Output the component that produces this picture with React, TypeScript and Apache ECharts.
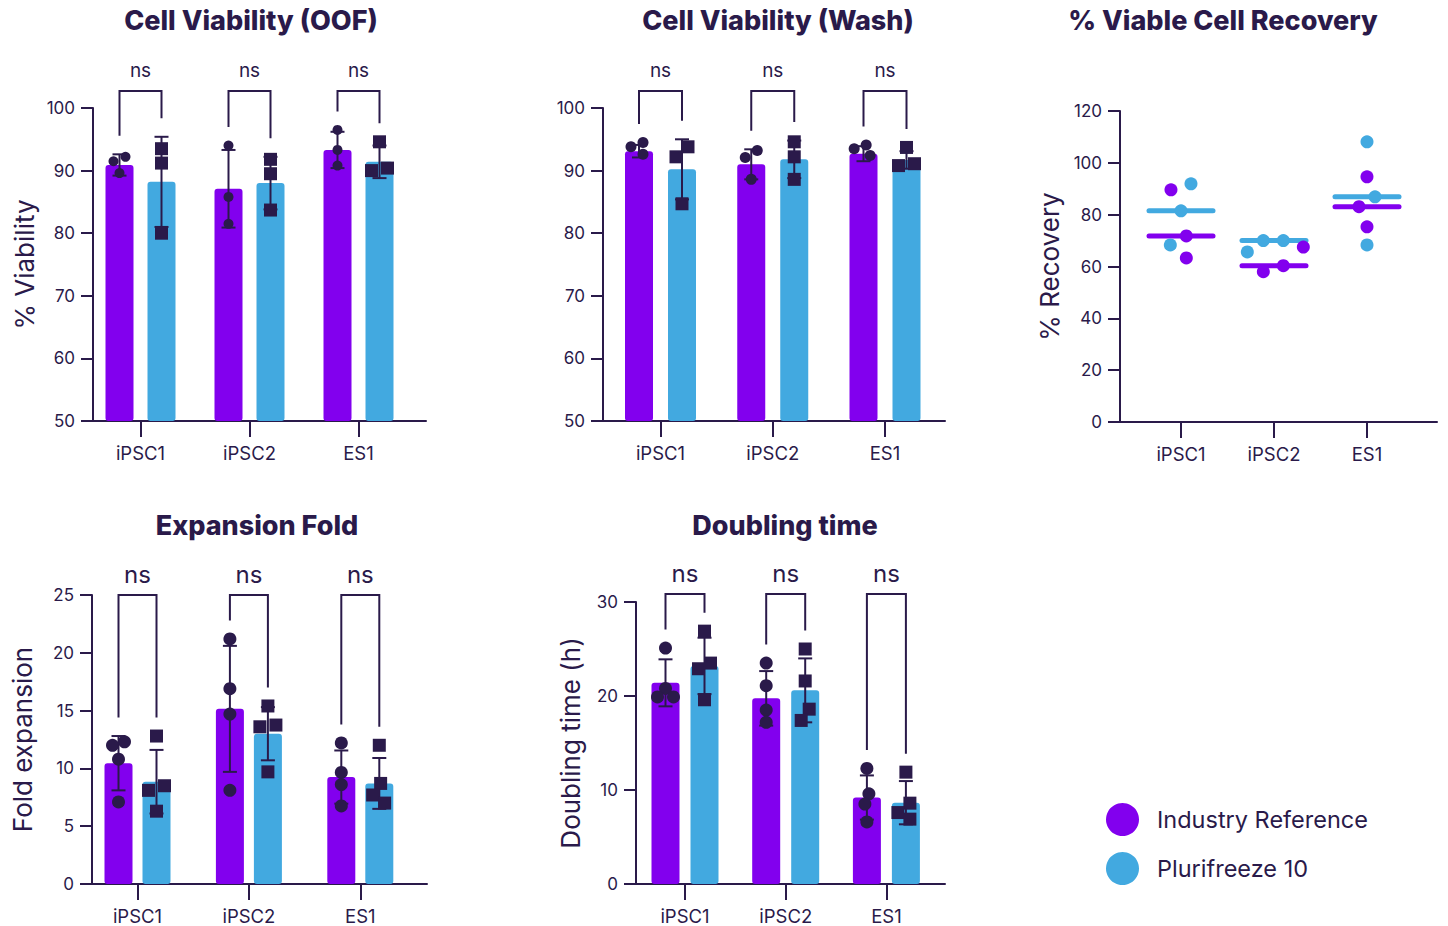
import React, { useEffect, useRef } from 'react';
import * as echarts from 'echarts';

// ---------------- DATA ----------------
const CATEGORIES = ['iPSC1', 'iPSC2', 'ES1'];
const GROUPS = ['Industry Reference', 'Plurifreeze 10'];
const SIG_LABELS = ['ns', 'ns', 'ns'];

// Cell Viability (OOF) – % viability
const oofRefMean = [90.9, 87.1, 93.3];
const oofRefSd = [1.7, 6.2, 2.9];
const oofRefPts = [[92.2, 91.5, 89.6], [94.0, 85.8, 81.5], [96.5, 93.3, 90.8]];
const oofPfMean = [88.2, 88.0, 91.4];
const oofPfSd = [7.2, 4.2, 2.6];
const oofPfPts = [[93.5, 91.2, 80.0], [91.8, 89.5, 83.7], [94.6, 90.4, 90.0]];

// Cell Viability (Wash) – % viability
const washRefMean = [93.1, 91.0, 92.7];
const washRefSd = [1.0, 2.4, 1.2];
const washRefPts = [[92.6, 94.5, 93.8], [93.2, 92.1, 88.6], [92.4, 94.1, 93.5]];
const washPfMean = [90.2, 91.8, 91.7];
const washPfSd = [4.8, 3.0, 1.4];
const washPfPts = [[93.8, 92.2, 84.7], [94.6, 92.2, 88.6], [93.7, 90.8, 91.1]];

// % Viable Cell Recovery
const recRefPts = [[89.6, 71.8, 63.3], [58.0, 60.3, 67.5], [94.6, 83.1, 75.3]];
const recPfPts = [[91.9, 81.5, 68.3], [70.0, 70.0, 65.6], [108.1, 86.9, 68.3]];

// Expansion Fold – fold expansion
const expRefMean = [10.45, 15.15, 9.25];
const expRefSd = [2.35, 5.45, 2.3];
const expRefPts = [[12.0, 12.3, 10.8, 7.1], [21.2, 16.9, 14.7, 8.1], [12.2, 9.65, 8.6, 6.75]];
const expPfMean = [8.85, 13.0, 8.7];
const expPfSd = [2.75, 2.3, 2.2];
const expPfPts = [[12.8, 8.5, 8.1, 6.3], [15.4, 13.75, 13.6, 9.7], [12.0, 8.7, 7.7, 7.0]];

// Doubling time – hours
const dblRefMean = [21.4, 19.75, 9.2];
const dblRefSd = [2.5, 2.9, 2.35];
const dblRefPts = [[25.1, 20.8, 19.9, 19.9], [23.5, 21.1, 18.5, 17.2], [12.3, 9.6, 8.5, 6.6]];
const dblPfMean = [23.2, 20.6, 8.65];
const dblPfSd = [3.0, 3.4, 2.3];
const dblPfPts = [[26.9, 23.5, 22.9, 19.6], [25.0, 21.6, 18.6, 17.4], [11.9, 8.6, 7.6, 6.9]];

// ---------------- STYLE ----------------
const PURPLE = '#8200EE';
const BLUE = '#42A9E0';
const INK = '#2A1A4A';
const FONT = 'Inter, "Noto Sans", sans-serif';
const BAR_W = 28;
const TICK_FONT = 17;
const CAT_FONT = 18.5;
const NAME_FONT = 26;
const TITLE_FONT = 27;

// beeswarm-like spread of replicate points (pixel offsets from their column centre)
function swarm(ys: number[], minDist: number, step: number): number[] {
  const order = ys.map((_, k) => k).sort((a, b) => ys[a] - ys[b]);
  const offs = ys.map(() => 0);
  const clusters: number[][] = [];
  let cur: number[] = [];
  order.forEach((k, j) => {
    if (j > 0 && ys[k] - ys[order[j - 1]] >= minDist) {
      clusters.push(cur);
      cur = [];
    }
    cur.push(k);
  });
  if (cur.length) clusters.push(cur);
  for (const cl of clusters) {
    const placed: number[] = [];
    for (const k of cl) {
      let n = 0;
      for (;;) {
        const cand = n === 0 ? 0 : (n % 2 === 1 ? -1 : 1) * Math.ceil(n / 2) * step;
        const ok = placed.every((p) => Math.hypot(offs[p] - cand, ys[p] - ys[k]) >= minDist);
        if (ok) {
          offs[k] = cand;
          break;
        }
        n++;
      }
      placed.push(k);
    }
    const mean = cl.reduce((s, k) => s + offs[k], 0) / cl.length;
    cl.forEach((k) => (offs[k] -= mean));
  }
  return offs;
}

type BarPanel = {
  title: string;
  yName: string;
  yMin: number;
  yMax: number;
  yInterval: number;
  refMean: number[];
  refSd: number[];
  refPts: number[][];
  pfMean: number[];
  pfSd: number[];
  pfPts: number[][];
  bracketTop: number;
  L: {
    axisLeft: number; axisRight: number; top: number; bottom: number;
    firstCenter: number; spacing: number; gap: number;
    titleX: number; titleY: number; nsSize: number; nameGap: number;
    dot: number; sq: number;
  };
};

const barPanels: BarPanel[] = [
  {
    title: 'Cell Viability (OOF)', yName: '% Viability', yMin: 50, yMax: 100, yInterval: 10,
    refMean: oofRefMean, refSd: oofRefSd, refPts: oofRefPts,
    pfMean: oofPfMean, pfSd: oofPfSd, pfPts: oofPfPts, bracketTop: 102.7,
    L: { axisLeft: 93, axisRight: 426, top: 108, bottom: 421, firstCenter: 140.5, spacing: 109, gap: 14,
      titleX: 251, titleY: 20, nsSize: 19, nameGap: 56, dot: 5, sq: 13 },
  },
  {
    title: 'Cell Viability (Wash)', yName: '', yMin: 50, yMax: 100, yInterval: 10,
    refMean: washRefMean, refSd: washRefSd, refPts: washRefPts,
    pfMean: washPfMean, pfSd: washPfSd, pfPts: washPfPts, bracketTop: 102.7,
    L: { axisLeft: 603, axisRight: 945, top: 108, bottom: 421, firstCenter: 660.5, spacing: 112.25, gap: 15,
      titleX: 778, titleY: 20, nsSize: 19, nameGap: 56, dot: 5.5, sq: 13 },
  },
  {
    title: 'Expansion Fold', yName: 'Fold expansion', yMin: 0, yMax: 25, yInterval: 5,
    refMean: expRefMean, refSd: expRefSd, refPts: expRefPts,
    pfMean: expPfMean, pfSd: expPfSd, pfPts: expPfPts, bracketTop: 25,
    L: { axisLeft: 92, axisRight: 427, top: 595, bottom: 884, firstCenter: 137.5, spacing: 111.4, gap: 10,
      titleX: 257, titleY: 525, nsSize: 24, nameGap: 57, dot: 6.5, sq: 13 },
  },
  {
    title: 'Doubling time', yName: 'Doubling time (h)', yMin: 0, yMax: 30, yInterval: 10,
    refMean: dblRefMean, refSd: dblRefSd, refPts: dblRefPts,
    pfMean: dblPfMean, pfSd: dblPfSd, pfPts: dblPfPts, bracketTop: 30.85,
    L: { axisLeft: 636, axisRight: 945, top: 602, bottom: 884, firstCenter: 685, spacing: 100.7, gap: 11,
      titleX: 785, titleY: 525, nsSize: 24, nameGap: 53, dot: 6.5, sq: 13 },
  },
];

const recLayout = {
  axisLeft: 1120, axisRight: 1437, top: 111, bottom: 422, firstCenter: 1181, spacing: 93,
  titleX: 1223, titleY: 20, nameGap: 58, dot: 6.5, lineHalf: 32,
};

const catIdx = CATEGORIES.map((_, i) => i);

function xAxisFor(gi: number, L: { axisLeft: number; axisRight: number; firstCenter: number; spacing: number }) {
  return {
    gridIndex: gi,
    type: 'value',
    min: (L.axisLeft - L.firstCenter) / L.spacing,
    max: (L.axisRight - L.firstCenter) / L.spacing,
    splitLine: { show: false },
    axisLine: { show: true, onZero: false, lineStyle: { color: INK, width: 2 } },
    axisTick: { show: true, customValues: catIdx, length: 16, lineStyle: { color: INK, width: 2 } },
    axisLabel: {
      customValues: catIdx,
      formatter: (v: number) => CATEGORIES[Math.round(v)] ?? '',
      color: INK, fontSize: CAT_FONT, fontFamily: FONT, margin: 22,
    },
  };
}

function yAxisFor(gi: number, min: number, max: number, interval: number, name: string, nameGap: number) {
  return {
    gridIndex: gi,
    type: 'value',
    min, max, interval,
    splitLine: { show: false },
    axisLine: { show: true, onZero: false, lineStyle: { color: INK, width: 2 } },
    axisTick: { show: true, length: 12, lineStyle: { color: INK, width: 2 } },
    axisLabel: { color: INK, fontSize: TICK_FONT, fontFamily: FONT, margin: 18 },
    name,
    nameLocation: 'middle',
    nameRotate: 90,
    nameGap,
    nameTextStyle: { color: INK, fontSize: NAME_FONT, fontFamily: FONT },
  };
}

function buildOption() {
  const grid: any[] = [];
  const xAxis: any[] = [];
  const yAxis: any[] = [];
  const series: any[] = [];
  const graphic: any[] = [];

  const addTitle = (text: string, x: number, y: number) => {
    graphic.push({
      type: 'text', x, y, silent: true,
      style: {
        text, fill: INK, fontSize: TITLE_FONT, fontWeight: 800, fontFamily: FONT,
        align: 'center', verticalAlign: 'middle', textAlign: 'center', textVerticalAlign: 'middle',
      },
    });
  };

  barPanels.forEach((p, gi) => {
    const L = p.L;
    const off = (BAR_W + L.gap) / 2;
    grid.push({ left: L.axisLeft, top: L.top, width: L.axisRight - L.axisLeft, height: L.bottom - L.top });
    xAxis.push(xAxisFor(gi, L));
    yAxis.push(yAxisFor(gi, p.yMin, p.yMax, p.yInterval, p.yName, L.nameGap));
    addTitle(p.title, L.titleX, L.titleY);

    const means = [p.refMean, p.pfMean];
    const sds = [p.refSd, p.pfSd];
    const pts = [p.refPts, p.pfPts];
    const colors = [PURPLE, BLUE];

    [0, 1].forEach((g) => {
      series.push({
        type: 'bar', name: GROUPS[g], xAxisIndex: gi, yAxisIndex: gi,
        data: means[g].map((m, i) => [i, m]),
        barWidth: BAR_W, barGap: `${(L.gap / BAR_W) * 100}%`,
        itemStyle: { color: colors[g], borderRadius: 3 },
        z: 2,
      });
    });

    // error bars (mean ± SD)
    const errRows: number[][] = [];
    [0, 1].forEach((g) => means[g].forEach((m, i) => errRows.push([i, m, sds[g][i], g])));
    series.push({
      type: 'custom', xAxisIndex: gi, yAxisIndex: gi, z: 4,
      data: errRows,
      renderItem: (params: any, api: any) => {
        const i = api.value(0), m = api.value(1), s = api.value(2), g = api.value(3);
        const hi = api.coord([i, m + s]);
        const lo = api.coord([i, m - s]);
        const x = hi[0] + (g === 0 ? -off : off);
        const st = { stroke: INK, lineWidth: 2 };
        return {
          type: 'group',
          children: [
            { type: 'line', shape: { x1: x, y1: hi[1], x2: x, y2: lo[1] }, style: st },
            { type: 'line', shape: { x1: x - 7, y1: hi[1], x2: x + 7, y2: hi[1] }, style: st },
            { type: 'line', shape: { x1: x - 7, y1: lo[1], x2: x + 7, y2: lo[1] }, style: st },
          ],
        };
      },
    });

    // replicate points
    const ptRows: number[][] = [];
    [0, 1].forEach((g) => means[g].forEach((m, i) => ptRows.push([i, m, g])));
    series.push({
      type: 'custom', xAxisIndex: gi, yAxisIndex: gi, z: 5,
      data: ptRows,
      renderItem: (params: any, api: any) => {
        const i = api.value(0), g = api.value(2);
        const vals = pts[g][i];
        const cs = vals.map((v) => api.coord([i, v]));
        const ys = cs.map((c) => c[1]);
        const offs = swarm(ys, g === 0 ? 11 : 13, 4);
        const cx = cs[0][0] + (g === 0 ? -off : off);
        const children = cs.map((c, k) => {
          const x = cx + offs[k];
          if (g === 0) {
            return { type: 'circle', shape: { cx: x, cy: c[1], r: L.dot }, style: { fill: INK } };
          }
          return { type: 'rect', shape: { x: x - L.sq / 2, y: c[1] - L.sq / 2, width: L.sq, height: L.sq }, style: { fill: INK } };
        });
        return { type: 'group', children };
      },
    });

    // significance brackets
    series.push({
      type: 'custom', xAxisIndex: gi, yAxisIndex: gi, z: 4,
      data: catIdx.map((i) => [i, p.bracketTop]),
      renderItem: (params: any, api: any) => {
        const i = api.value(0);
        const top = api.coord([i, p.bracketTop]);
        const legEnd = [0, 1].map((g) => {
          const maxV = Math.max(means[g][i] + sds[g][i], ...pts[g][i]);
          return api.coord([i, maxV])[1] - L.sq / 2 - 12;
        });
        const xl = top[0] - off, xr = top[0] + off;
        return {
          type: 'group',
          children: [
            {
              type: 'polyline',
              shape: { points: [[xl, legEnd[0]], [xl, top[1]], [xr, top[1]], [xr, legEnd[1]]] },
              style: { stroke: INK, lineWidth: 2, fill: 'none' },
            },
            {
              type: 'text', x: top[0], y: top[1] - 21,
              style: {
                text: SIG_LABELS[i], fill: INK, fontSize: L.nsSize, fontFamily: FONT,
                align: 'center', verticalAlign: 'middle',
              },
            },
          ],
        };
      },
    });
  });

  // % Viable Cell Recovery (scatter with median lines)
  const rg = barPanels.length;
  const R = recLayout;
  grid.push({ left: R.axisLeft, top: R.top, width: R.axisRight - R.axisLeft, height: R.bottom - R.top });
  xAxis.push(xAxisFor(rg, R));
  yAxis.push(yAxisFor(rg, 0, 120, 20, '% Recovery', R.nameGap));
  addTitle('% Viable Cell Recovery', R.titleX, R.titleY);
  const recPts = [recRefPts, recPfPts];
  const recColors = [PURPLE, BLUE];
  const median = (a: number[]) => {
    const s = [...a].sort((x, y) => x - y);
    const n = s.length;
    return n % 2 ? s[(n - 1) / 2] : (s[n / 2 - 1] + s[n / 2]) / 2;
  };
  const medRows: number[][] = [];
  [0, 1].forEach((g) => recPts[g].forEach((p, i) => medRows.push([i, median(p), g])));
  series.push({
    type: 'custom', xAxisIndex: rg, yAxisIndex: rg, z: 3,
    data: medRows,
    renderItem: (params: any, api: any) => {
      const c = api.coord([api.value(0), api.value(1)]);
      const g = api.value(2);
      return {
        type: 'line',
        shape: { x1: c[0] - R.lineHalf, y1: c[1], x2: c[0] + R.lineHalf, y2: c[1] },
        style: { stroke: recColors[g], lineWidth: 5, lineCap: 'round' },
      };
    },
  });
  series.push({
    type: 'custom', xAxisIndex: rg, yAxisIndex: rg, z: 4,
    data: catIdx.map((i) => [i, median(recPts[0][i])]),
    renderItem: (params: any, api: any) => {
      const i = api.value(0);
      const items: { c: number[]; g: number }[] = [];
      [0, 1].forEach((g) => recPts[g][i].forEach((v) => items.push({ c: api.coord([i, v]), g })));
      const offs = swarm(items.map((it) => it.c[1]), 18, 4);
      return {
        type: 'group',
        children: items.map((it, k) => ({
          type: 'circle',
          shape: { cx: it.c[0] + offs[k], cy: it.c[1], r: R.dot },
          style: { fill: recColors[it.g] },
        })),
      };
    },
  });

  return {
    animation: false,
    backgroundColor: '#ffffff',
    textStyle: { fontFamily: FONT },
    grid,
    xAxis,
    yAxis,
    series,
    graphic,
    legend: {
      data: GROUPS,
      orient: 'vertical',
      left: 1101,
      top: 798,
      icon: 'circle',
      itemWidth: 33,
      itemHeight: 33,
      itemGap: 16,
      selectedMode: false,
      textStyle: { fontSize: 23.5, color: INK, fontFamily: FONT, padding: [0, 0, 0, 13] },
    },
  };
}

export default function App() {
  const ref = useRef<HTMLDivElement>(null);
  useEffect(() => {
    if (!ref.current) return;
    const chart = echarts.init(ref.current, undefined, { renderer: 'svg' });
    chart.setOption(buildOption() as any);
    return () => chart.dispose();
  }, []);
  return (
    <div
      ref={ref}
      style={{ position: 'fixed', left: 0, top: 0, width: 1448, height: 926, background: '#fff' }}
    />
  );
}
